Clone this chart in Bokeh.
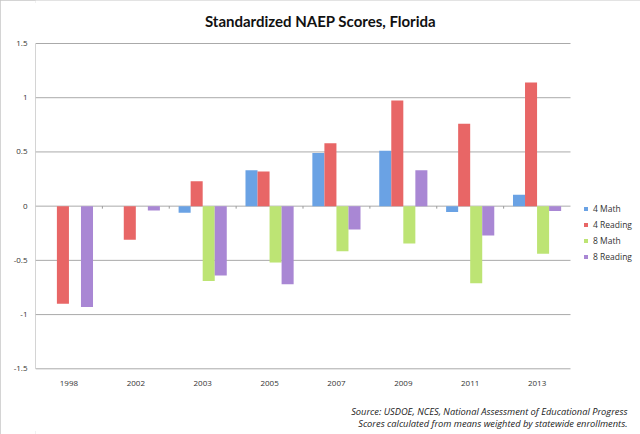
from bokeh.plotting import figure
from bokeh.models import (Range1d, FixedTicker, Legend, LegendItem, ColumnDataSource)
from bokeh.transform import dodge
from bokeh.core.properties import value
from bokeh.embed import file_html
from bokeh.resources import INLINE

years = ["1998", "2002", "2003", "2005", "2007", "2009", "2011", "2013"]
nan = float("nan")
math4 = [nan, nan, -0.06, 0.33, 0.49, 0.51, -0.055, 0.105]
reading4 = [-0.90, -0.31, 0.23, 0.32, 0.58, 0.975, 0.76, 1.14]
math8 = [nan, nan, -0.69, -0.52, -0.415, -0.345, -0.71, -0.44]
reading8 = [-0.93, -0.04, -0.64, -0.72, -0.215, 0.33, -0.27, -0.045]

series_names = ["4 Math", "4 Reading", "8 Math", "8 Reading"]
series_values = [math4, reading4, math8, reading8]
series_colors = ["#6aa2e4", "#e86666", "#bde474", "#a987d4"]
offsets = [-0.27, -0.09, 0.09, 0.27]

y_ticks = [-1.5, -1.0, -0.5, 0.0, 0.5, 1.0, 1.5]
y_tick_labels = ["-1.5", "-1", "-0.5", "0", "0.5", "1", "1.5"]

title_text = "Standardized NAEP Scores, Florida"
source_lines = ["Source: USDOE, NCES, National Assessment of Educational Progress",
                "Scores calculated from means weighted by statewide enrollments."]

# ---- layout (pixels) ----
W, H = 640, 434
PL, PR, PT, PB = 35, 570, 43, 368.3   # plot area edges
n = len(years)
y_lo, y_hi = y_ticks[0], y_ticks[-1]
ux = (PR - PL) / n                  # px per category
uy = (PB - PT) / (y_hi - y_lo)      # px per unit
x0 = -0.5
x1 = x0 + (W - PL) / ux
yt = y_hi + PT / uy
yb = y_lo - (H - PB) / uy

def dx(px):
    return x0 + (px - PL) / ux

def dy(py):
    return y_hi - (py - PT) / uy

p = figure(width=W, height=H, x_range=Range1d(x0, x1), y_range=Range1d(yb, yt),
           output_backend="svg", toolbar_location=None, x_axis_location=None,
           min_border_left=PL, min_border_right=0, min_border_top=0,
           min_border_bottom=0)
p.styles = {"outline": "3px solid #c6c6c6", "outline-offset": "-3px"}
p.outline_line_color = None
p.background_fill_color = "white"
p.border_fill_color = "white"
p.xgrid.grid_line_color = None
p.ygrid.grid_line_color = None

grid_color = "#aaaaaa"
# gridlines and left axis line, limited to the plot area
p.segment(x0=[x0] * len(y_ticks), x1=[n - 0.5] * len(y_ticks), y0=y_ticks, y1=y_ticks,
          line_color=grid_color, line_width=1)
p.segment(x0=[x0], x1=[x0], y0=[y_lo], y1=[y_hi], line_color=grid_color, line_width=1)
# small category tick marks on the zero line
bounds = [i + 0.5 for i in range(n - 1)]
p.segment(x0=bounds, x1=bounds, y0=[0] * len(bounds), y1=[-2.5 / uy] * len(bounds),
          line_color="#999999", line_width=1)

data = {"idx": list(range(n)), "year": years}
for i, vals in enumerate(series_values):
    data["s%d" % i] = vals
src = ColumnDataSource(data)

items = []
for i, name in enumerate(series_names):
    r = p.vbar(x=dodge("idx", offsets[i]), top="s%d" % i, bottom=0,
               width=0.18, source=src, fill_color=series_colors[i], line_color=None)
    items.append(LegendItem(label=name, renderers=[r]))

legend = Legend(items=items, location=(548, 170), padding=0, margin=0,
                border_line_color=None, background_fill_alpha=0,
                glyph_width=5, glyph_height=5, label_height=16, spacing=0,
                label_standoff=5, label_text_font="Open Sans",
                label_text_font_size="8.5px", label_text_color="#333333")
p.add_layout(legend, "center")

# y axis
p.yaxis.ticker = FixedTicker(ticks=y_ticks)
p.yaxis.major_label_overrides = {t: l for t, l in zip(y_ticks, y_tick_labels)}
p.yaxis.axis_line_color = None
p.yaxis.major_tick_line_color = None
p.yaxis.minor_tick_line_color = None
p.yaxis.major_label_standoff = 2
p.yaxis.major_label_text_font = "Open Sans"
p.yaxis.major_label_text_font_size = "8px"
p.yaxis.major_label_text_color = "#333333"

# category labels
p.text(x="idx", y=y_lo, text="year", source=src, y_offset=15,
       text_align="center", text_baseline="middle", text_font=value("Open Sans"),
       text_font_size="8px", text_color="#333333")

# title
p.text(x=[dx(320)], y=[dy(20.7)], text=[title_text], text_align="center",
       text_baseline="middle", text_font=value("Lato"), text_font_style="bold",
       text_font_size="15px", text_color="#111111")

# source lines
p.text(x=[dx(627)] * 2, y=[dy(410.7), dy(422.7)], text=source_lines,
       text_align="right", text_baseline="middle", text_font=value("Open Sans"),
       text_font_style="italic", text_font_size="9.3px", text_color="#222222")

open("out.html", "w").write(file_html(p, INLINE))
